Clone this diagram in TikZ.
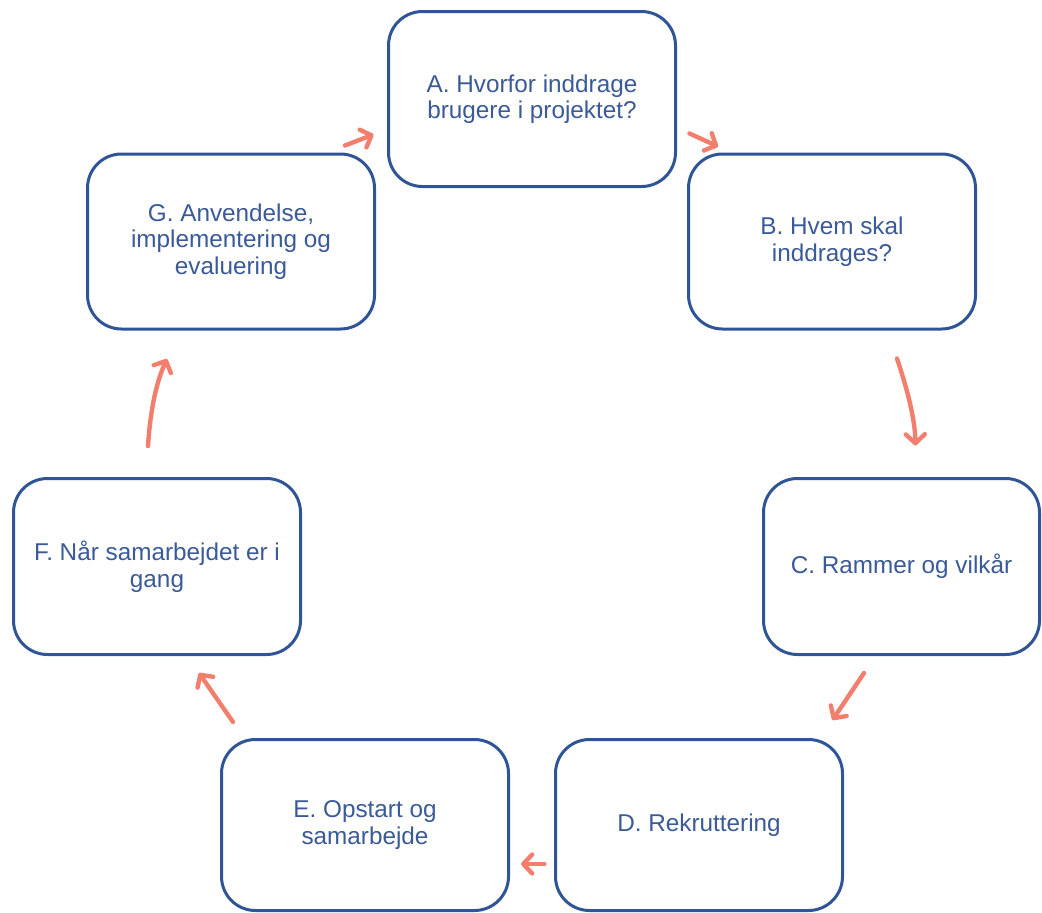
\documentclass[tikz,border=0pt]{standalone}
\usepackage{fontspec}
\setmainfont{Liberation Sans}
\usetikzlibrary{arrows.meta}
\definecolor{boxblue}{HTML}{2F5597}
\definecolor{txtblue}{HTML}{3A5A98}
\definecolor{salmon}{HTML}{F27F6D}
\tikzset{
  stepbox/.style={draw=boxblue, line width=3pt, rounded corners=34pt, fill=white,
    minimum width=287pt, minimum height=175pt, inner sep=0pt, align=center,
    text=txtblue, font=\fontsize{24.3}{26.5}\selectfont},
  flow/.style={draw=salmon, line width=4.4pt, line cap=round,
    -{Straight Barb[length=9pt,width=19pt,round]}}
}
\begin{document}
\begin{tikzpicture}[x=1pt,y=-1pt]
\useasboundingbox (0,0) rectangle (1042,913);
\node[stepbox] (A) at (532,99) {A. Hvorfor inddrage\\brugere i projektet?};
\node[stepbox] (B) at (832,241.5) {B. Hvem skal\\inddrages?};
\node[stepbox, minimum width=276pt, minimum height=176pt] (C) at (901.5,566.5) {C. Rammer og vilkår};
\node[stepbox, minimum height=171pt] (D) at (699,825) {D. Rekruttering};
\node[stepbox, minimum height=171pt] (E) at (365,825) {E. Opstart og\\samarbejde};
\node[stepbox, minimum height=176pt] (F) at (157,566.5) {F. Når samarbejdet er i\\gang};
\node[stepbox] (G) at (231,241.5) {G. Anvendelse,\\implementering og\\evaluering};
% G -> A
\draw[flow] ([shift={(-31,-7)}]G.north east) -- ([shift={(-13.5,-53.5)}]A.south west);
% A -> B
\draw[flow] ([shift={(12.5,-54.5)}]A.south east) -- ([shift={(31,-6)}]B.north west);
% B -> C
\draw[flow] ([shift={(-80,28)}]B.south east) .. controls ([shift={(-70,58)}]B.south east) and ([shift={(-62,88)}]B.south east) .. ([shift={(-61.5,115)}]B.south east);
% C -> D
\draw[flow] ([shift={(-37.5,17)}]C.south) -- ([shift={(-11.5,-18)}]D.north east);
% D -> E
\draw[flow] ([shift={(-9.5,39)}]D.west) -- ([shift={(11,39)}]E.east);
% E -> F
\draw[flow] ([shift={(-132,-16)}]E.north) -- ([shift={(42,17)}]F.south);
% F -> G
\draw[flow] ([shift={(-9,-31)}]F.north) .. controls ([shift={(-7,-62)}]F.north) and ([shift={(-2,-92)}]F.north) .. ([shift={(10,-118)}]F.north);
\end{tikzpicture}
\end{document}
